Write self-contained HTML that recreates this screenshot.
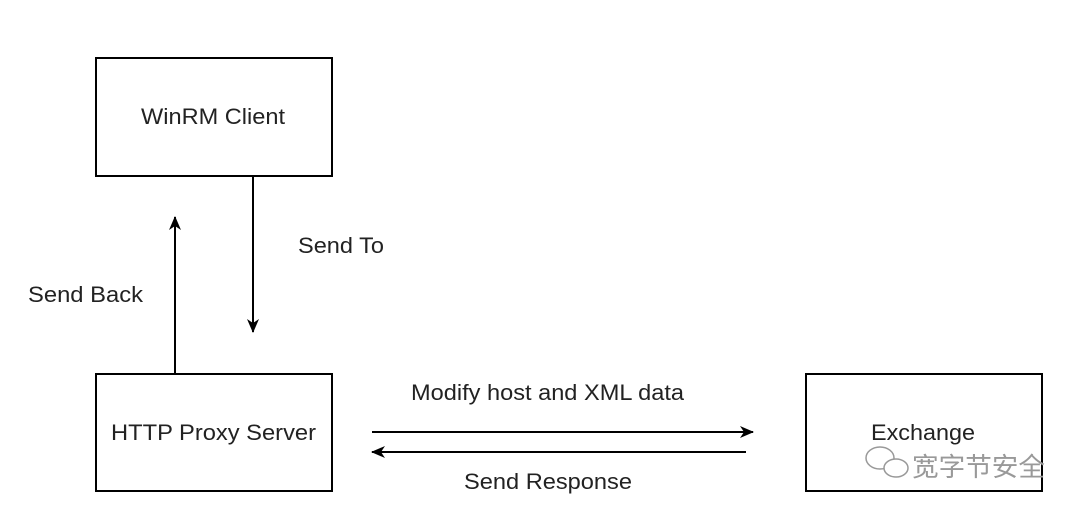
<!DOCTYPE html>
<html><head><meta charset="utf-8"><style>
html,body{margin:0;padding:0;background:#fff;}
body{width:1080px;height:513px;overflow:hidden;position:relative;font-family:"Liberation Sans","Noto Sans CJK SC",sans-serif;}
</style></head><body>
<svg width="1080" height="513" xmlns="http://www.w3.org/2000/svg" style="position:absolute;left:0;top:0">
<defs><marker id="a" markerWidth="14" markerHeight="14" refX="13" refY="7" orient="auto" markerUnits="userSpaceOnUse"><path d="M0,1 L14,7 L0,13 L4,7 z" fill="#000"/></marker></defs>
<g fill="none" stroke="#000" stroke-width="2">
<rect x="96" y="58" width="236" height="118"/>
<rect x="96" y="374" width="236" height="117"/>
<rect x="806" y="374" width="236" height="117"/>
</g>
<g stroke="#000" stroke-width="2" marker-end="url(#a)">
<line x1="253" y1="176" x2="253" y2="332"/>
<line x1="175" y1="374" x2="175" y2="217"/>
<line x1="372" y1="432" x2="753" y2="432"/>
<line x1="746" y1="452" x2="372" y2="452"/>
</g>
<g font-size="22" fill="#222" font-family="Liberation Sans, sans-serif" lengthAdjust="spacingAndGlyphs">
<text x="141" y="124" textLength="144" lengthAdjust="spacingAndGlyphs">WinRM Client</text>
<text x="111" y="440" textLength="205" lengthAdjust="spacingAndGlyphs">HTTP Proxy Server</text>
<text x="871" y="440" textLength="104" lengthAdjust="spacingAndGlyphs">Exchange</text>
<text x="298" y="253" textLength="86" lengthAdjust="spacingAndGlyphs">Send To</text>
<text x="28" y="302" textLength="115" lengthAdjust="spacingAndGlyphs">Send Back</text>
<text x="411" y="400" textLength="273" lengthAdjust="spacingAndGlyphs">Modify host and XML data</text>
<text x="464" y="489" textLength="168" lengthAdjust="spacingAndGlyphs">Send Response</text>
</g>
<g fill="none" stroke="#999" stroke-width="1.5">
<ellipse cx="880" cy="458" rx="14" ry="11"/>
<ellipse cx="896" cy="468" rx="12" ry="9" fill="#fff"/>
</g>
<text x="912" y="476" font-size="26" fill="#999" font-family="Noto Sans CJK SC, sans-serif" textLength="133" lengthAdjust="spacingAndGlyphs">宽字节安全</text>
</svg>
</body></html>
